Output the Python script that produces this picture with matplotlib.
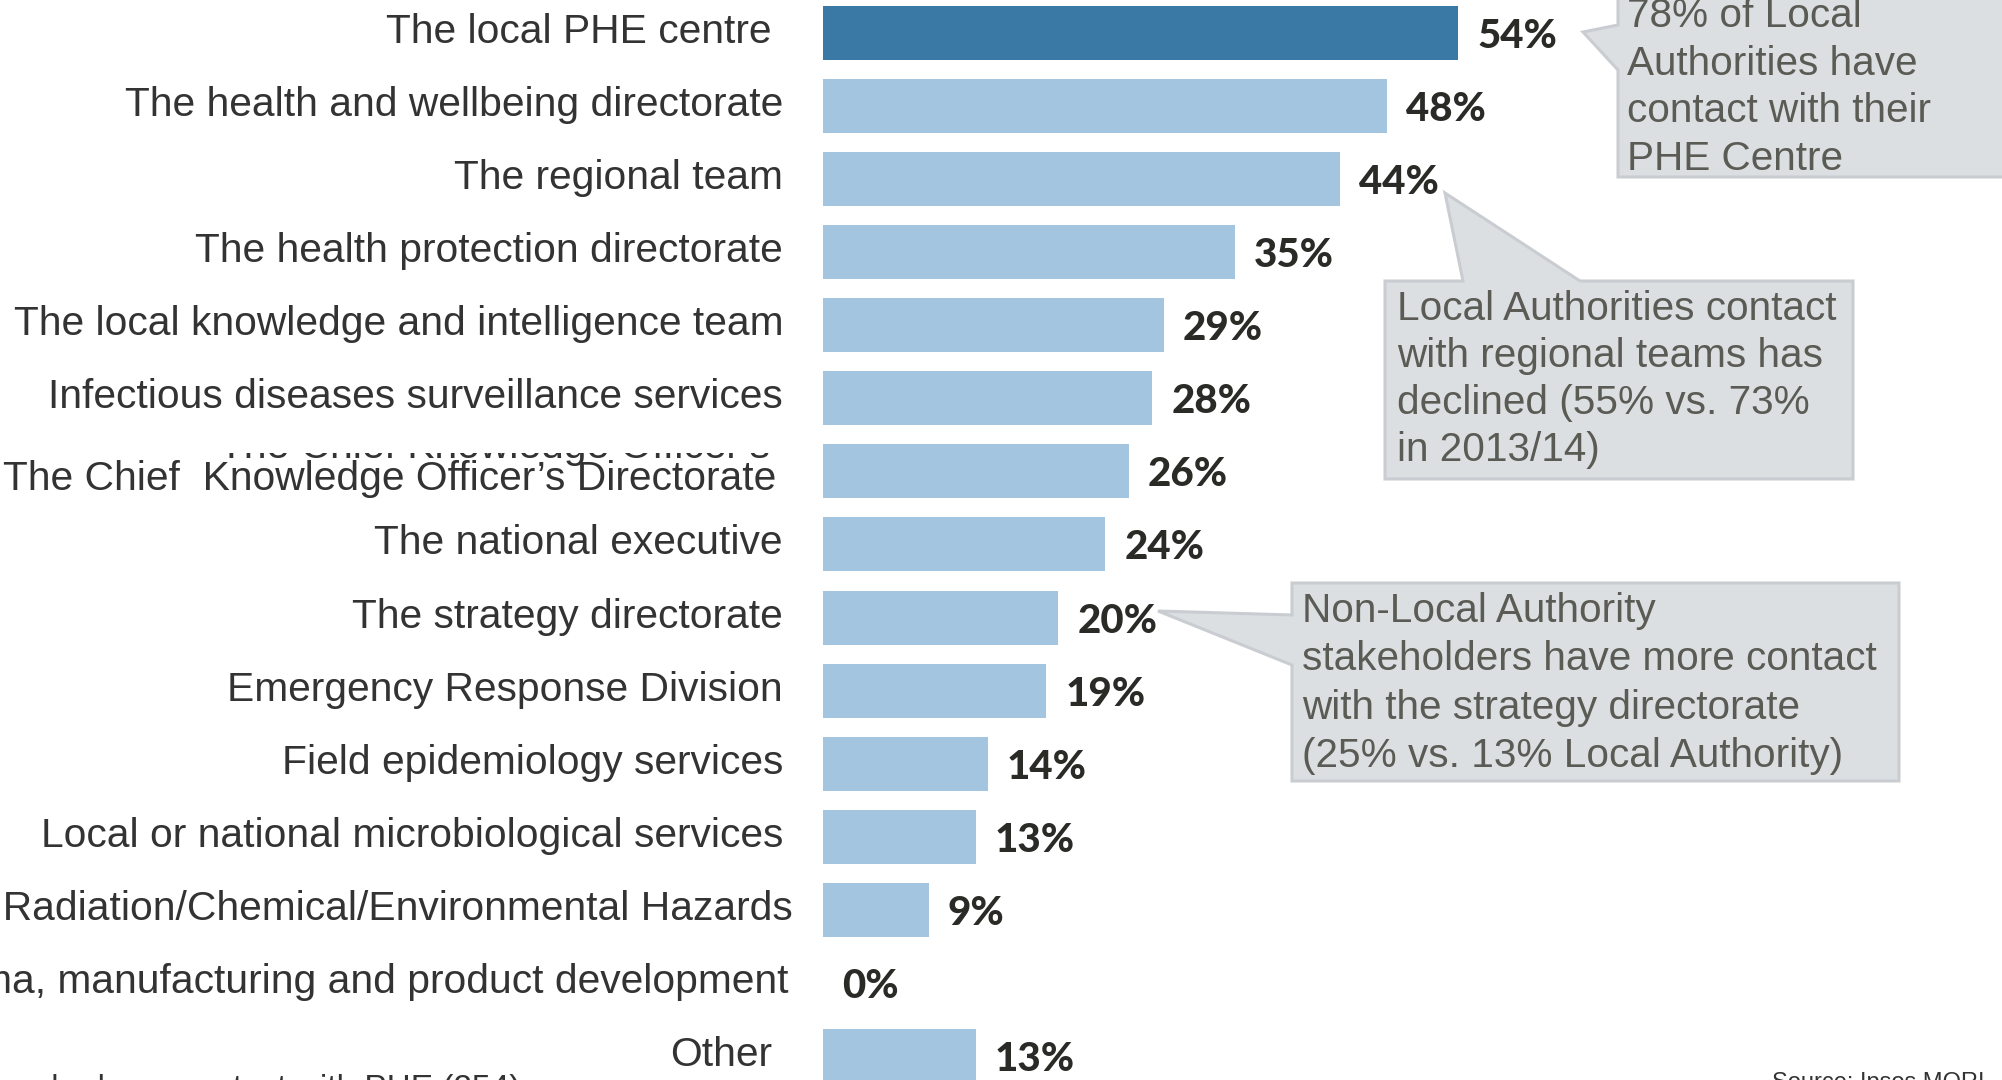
import matplotlib

matplotlib.use("Agg")
import matplotlib.pyplot as plt
from matplotlib import transforms
from matplotlib.patches import Polygon, Rectangle

# --- data -------------------------------------------------------------
categories = [
    "The local PHE centre",
    "The health and wellbeing directorate",
    "The regional team",
    "The health protection directorate",
    "The local knowledge and intelligence team",
    "Infectious diseases surveillance services",
    "The Chief  Knowledge Officer\u2019s Directorate",
    "The national executive",
    "The strategy directorate",
    "Emergency Response Division",
    "Field epidemiology services",
    "Local or national microbiological services",
    "Centre for Radiation/Chemical/Environmental Hazards",
    "Pharma, manufacturing and product development",
    "Other",
]
values = [54, 48, 44, 35, 29, 28, 26, 24, 20, 19, 14, 13, 9, 0, 13]
highlight = "The local PHE centre"

callout_phe = ["78% of Local", "Authorities have", "contact with their", "PHE Centre"]
callout_regional = ["Local Authorities contact", "with regional teams has",
                    "declined (55% vs. 73%", "in 2013/14)"]
callout_strategy = ["Non-Local Authority", "stakeholders have more contact",
                    "with the strategy directorate", "(25% vs. 13% Local Authority)"]
base_note = "Base: All stakeholders who have contact with PHE (254)"
source_note = "Source: Ipsos MORI"

# --- layout (pixels) --------------------------------------------------
W, H, DPI = 2002, 1080, 100
X0, PX_PER_PCT = 823, 11.76        # left edge of bars, pixels per percent
ROW0, STEP = 33, 73.07             # first row centre, row pitch
label_right = [772, 783, 783, 783, 783, 783, 776, 783, 783, 783, 783, 783, 793, 788, 772]
label_dy = [10, 10, 10, 10, 10, 10, 19, 10, 10, 10, 10, 10, 10, 10, 10]

DARK, LIGHT = "#3a78a6", "#a3c5df"
BOX_FILL, BOX_EDGE = "#dcdfe2", "#c9cdd1"
LABEL_C, VALUE_C, NOTE_C = "#333333", "#2a2a26", "#5b5b55"
SANS = ["Liberation Sans", "DejaVu Sans"]
HEAVY = ["Lato", "DejaVu Sans"]
LABEL_FS, NOTE_FS = 29.3, 29.2

fig = plt.figure(figsize=(W / DPI, H / DPI), dpi=DPI)
ax = fig.add_axes([0, 0, 1, 1])
ax.axis("off")
ax.set_xlim(-X0 / PX_PER_PCT, (W - X0) / PX_PER_PCT)
ax.set_ylim((H - ROW0) / STEP, -ROW0 / STEP)

# pixel coordinates measured from the top-left corner
px = transforms.Affine2D().scale(1 / W, -1 / H).translate(0, 1) + fig.transFigure


def off(dx, dy):
    return ax.transData + transforms.ScaledTranslation(dx / DPI, -dy / DPI,
                                                       fig.dpi_scale_trans)


rows = range(len(categories))
colors = [DARK if c == highlight else LIGHT for c in categories]
ax.barh(list(rows), values, height=54 / STEP, color=colors, zorder=2)

for i, (cat, v) in enumerate(zip(categories, values)):
    ax.text(0, i, cat, ha="right", va="baseline", fontsize=LABEL_FS,
            family=SANS, color=LABEL_C, zorder=3,
            transform=off(label_right[i] - X0, label_dy[i]))
    ax.text(v, i, f"{v}%", ha="left", va="baseline", fontsize=29,
            family=HEAVY, fontweight="black", color=VALUE_C,
            transform=off(19, 15))

# half-hidden second label line above the Chief Knowledge Officer row
ax.text(770, 458, "The Chief Knowledge Officer\u2019s", ha="right",
        va="baseline", fontsize=LABEL_FS, family=SANS, color=LABEL_C,
        transform=px, zorder=1)
ax.add_patch(Rectangle((0, 421), 800, 32, facecolor="white", edgecolor="none",
                       transform=px, zorder=1.5))


def callout(verts, lines, x, baselines):
    ax.add_patch(Polygon(verts, closed=True, facecolor=BOX_FILL,
                         edgecolor=BOX_EDGE, lw=2.2, transform=px, zorder=3))
    for line, yb in zip(lines, baselines):
        ax.text(x, yb, line, ha="left", va="baseline", fontsize=NOTE_FS,
                family=SANS, color=NOTE_C, transform=px, zorder=4)


callout([(1618, -10), (2010, -10), (2010, 177), (1618, 177), (1618, 70),
         (1583, 32), (1618, 25)],
        callout_phe, 1627, [27, 75, 122, 170])
callout([(1385, 281), (1463, 281), (1445, 193), (1580, 281), (1853, 281),
         (1853, 479), (1385, 479)],
        callout_regional, 1397, [320, 367, 414, 461])
callout([(1292, 583), (1899, 583), (1899, 781), (1292, 781), (1292, 665),
         (1158, 611), (1292, 615)],
        callout_strategy, 1302, [622, 670, 719, 767])

ax.text(521, 1074, base_note, ha="right", va="top", fontsize=24,
        family=SANS, color=LABEL_C, transform=px)
ax.text(1985, 1072, source_note, ha="right", va="top", fontsize=17,
        family=SANS, color=LABEL_C, transform=px)

fig.savefig("out.png", dpi=DPI)
